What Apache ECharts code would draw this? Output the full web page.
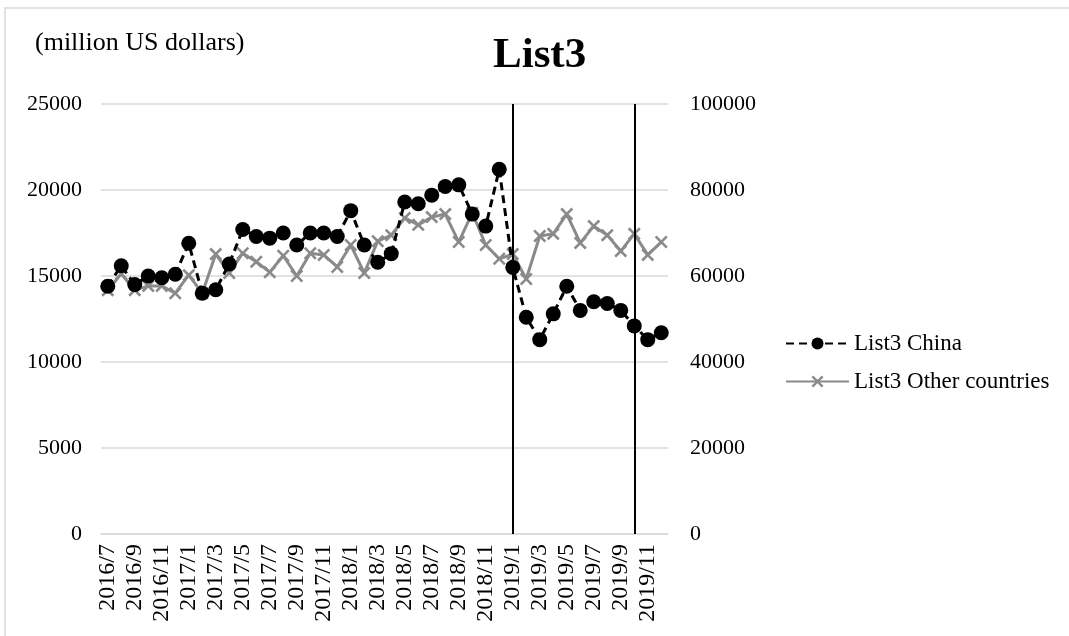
<!DOCTYPE html>
<html>
<head>
<meta charset="utf-8">
<script src="https://cdn.jsdelivr.net/npm/echarts@6/dist/echarts.min.js"></script>
<style>
html,body{margin:0;padding:0;background:#fff;}
#container{width:1069px;height:636px;}
</style>
</head>
<body>
<div id="container"></div>
<script>
var months = ['2016/7','2016/8','2016/9','2016/10','2016/11','2016/12',
	'2017/1','2017/2','2017/3','2017/4','2017/5','2017/6','2017/7','2017/8','2017/9','2017/10','2017/11','2017/12',
	'2018/1','2018/2','2018/3','2018/4','2018/5','2018/6','2018/7','2018/8','2018/9','2018/10','2018/11','2018/12',
	'2019/1','2019/2','2019/3','2019/4','2019/5','2019/6','2019/7','2019/8','2019/9','2019/10','2019/11','2019/12'];
var china = [14400,15600,14500,15000,14900,15100,
	16900,14000,14200,15700,17700,17300,17200,17500,16800,17500,17500,17300,
	18800,16800,15800,16300,19300,19200,19700,20200,20300,18600,17900,21200,
	15500,12600,11300,12800,14400,13000,13500,13400,13000,12100,11300,11700];
var others = [56700,60500,56700,57700,57700,56000,
	60200,56000,65100,60700,65300,63300,60900,64700,60000,65300,64900,62100,
	67200,60700,68100,69500,73500,71900,73700,74400,67900,74700,67200,64000,
	65100,59300,69300,69800,74400,67700,71600,69500,65800,69800,64900,67900];
var markMonths = ['2019/1','2019/10'];

var font = 'Liberation Serif';
var cross = 'path://M0,1.4L1.4,0L5,3.6L8.6,0L10,1.4L6.4,5L10,8.6L8.6,10L5,6.4L1.4,10L0,8.6L3.6,5Z';
var plain = function(v){ return String(v); };

var myChart = echarts.init(document.getElementById('container'));
var option = {
	backgroundColor: '#fff',
	textStyle: {fontFamily: font},
	animation: false,
	graphic: [{
		type: 'rect',
		shape: {x: 5, y: 8, width: 1070, height: 640},
		style: {fill: 'none', stroke: '#d9d9d9', lineWidth: 1.5}
	}, {
		type: 'text',
		left: 35, top: 30,
		style: {text: '(million US dollars)', fontFamily: font, fontSize: 26, fill: '#000'}
	}],
	title: {
		text: 'List3',
		left: 493, top: 34,
		padding: 0,
		textStyle: {fontFamily: font, fontSize: 43, fontWeight: 'bold', color: '#000'}
	},
	legend: {
		orient: 'vertical',
		left: 780, top: 327,
		itemWidth: 63, itemHeight: 15, itemGap: 15,
		textStyle: {fontFamily: font, fontSize: 23, color: '#000'},
		data: ['List3 China', 'List3 Other countries']
	},
	grid: {left: 101, right: 401, top: 104, bottom: 102},
	xAxis: {
		type: 'category',
		data: months,
		boundaryGap: true,
		axisLine: {lineStyle: {color: '#d9d9d9', width: 1.5}},
		axisTick: {show: false},
		axisLabel: {rotate: 90, interval: 1, fontSize: 24, color: '#000', fontFamily: font, margin: 10}
	},
	yAxis: [{
		type: 'value', min: 0, max: 25000, interval: 5000,
		axisLine: {show: false}, axisTick: {show: false},
		splitLine: {lineStyle: {color: '#d9d9d9', width: 1.5}},
		axisLabel: {fontSize: 22, color: '#000', fontFamily: font, margin: 19, formatter: plain}
	}, {
		type: 'value', min: 0, max: 100000, interval: 20000,
		axisLine: {show: false}, axisTick: {show: false},
		splitLine: {show: false},
		axisLabel: {fontSize: 22, color: '#000', fontFamily: font, margin: 22, formatter: plain}
	}],
	series: [{
		name: 'List3 Other countries',
		type: 'line',
		yAxisIndex: 1,
		data: others,
		color: '#8a8a8a',
		symbol: cross,
		symbolSize: 13,
		showAllSymbol: true,
		lineStyle: {color: '#8a8a8a', width: 3},
		itemStyle: {color: '#8a8a8a'},
		z: 2
	}, {
		name: 'List3 China',
		type: 'line',
		yAxisIndex: 0,
		data: china,
		color: '#000',
		symbol: 'circle',
		symbolSize: 15,
		showAllSymbol: true,
		lineStyle: {color: '#000', width: 3, type: [8, 5]},
		itemStyle: {color: '#000'},
		z: 3,
		markLine: {
			silent: true,
			symbol: 'none',
			label: {show: false},
			lineStyle: {color: '#000', width: 2, type: 'solid'},
			data: markMonths.map(function(m){ return {xAxis: m}; })
		}
	}]
};
myChart.setOption(option);
</script>
</body>
</html>
